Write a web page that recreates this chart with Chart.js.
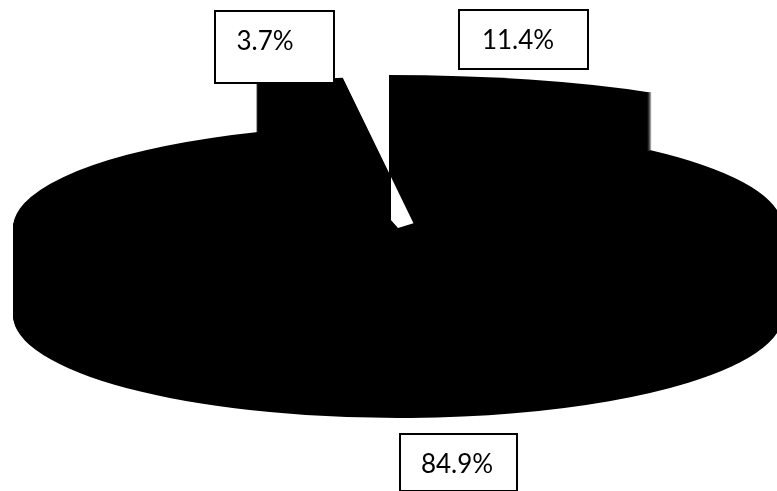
<!DOCTYPE html>
<html>
<head>
<meta charset="utf-8">
<title>Pie</title>
<script src="https://cdn.jsdelivr.net/npm/chart.js@4"></script>
<style>
html, body { margin: 0; padding: 0; background: #fff; }
canvas { display: block; }
</style>
</head>
<body>
<canvas id="pieChart" width="777" height="491"></canvas>
<script>
// Chart values
const sliceNames = ['A', 'B', 'C'];
const sliceValues = [11.4, 84.9, 3.7];
const tickLabels = sliceValues.map(v => v.toFixed(1) + '%');

// Where each slice sits on the tilted plate (same order as the values)
const sliceCentreX = [389, 398, 391];
const sliceCentreY = [147, 228, 177];
const sliceRadiusX = [400, 385, 385];
const sliceRadiusY = [72, 103, 100];
const sliceTurn = [0, 0, -7.2];
const plateDepth = 87;
const drawOrder = [0, 2, 1];

// Label boxes: left, top, width, height, text x, text y
const labelBoxes = [
    [459, 10, 129, 59, 518, 41],
    [400, 434, 117, 57, 457, 465],
    [215, 11, 119, 72, 265, 42]
];

// Draw one arc squashed into an ellipse
function drawSlice(ctx, arc, i, drop) {
    ctx.save();
    ctx.translate(sliceCentreX[i], sliceCentreY[i] + drop);
    ctx.scale(sliceRadiusX[i] / arc.outerRadius, sliceRadiusY[i] / arc.outerRadius);
    ctx.rotate(sliceTurn[i] * Math.PI / 180);
    ctx.translate(-arc.x, -arc.y);
    arc.draw(ctx);
    ctx.restore();
}

// Gap under the exploded slices, follows the right edge of the small slice
function drawGap(ctx) {
    const turn = -sliceTurn[2] * Math.PI / 180;
    const slope = (sliceRadiusX[2] * Math.sin(turn)) / (sliceRadiusY[2] * Math.cos(turn));
    const x = sliceCentreX[2];
    const y = sliceCentreY[2];
    const h = sliceCentreY[1] + 10 - y;
    ctx.save();
    ctx.fillStyle = '#fff';
    ctx.beginPath();
    ctx.moveTo(x, y);
    ctx.lineTo(x + h * slope, y + h);
    ctx.lineTo(x, y + h);
    ctx.closePath();
    ctx.fill();
    ctx.restore();
}

const tiltedPie = {
    id: 'tiltedPie',
    beforeDatasetsDraw(chart) {
        const ctx = chart.ctx;
        const arcs = chart.getDatasetMeta(0).data;
        drawOrder.forEach(i => {
            if (i === 1) drawGap(ctx);
            for (let drop = plateDepth; drop >= 0; drop--) {
                drawSlice(ctx, arcs[i], i, drop);
            }
        });
        return false;
    },
    afterDraw(chart) {
        const ctx = chart.ctx;
        ctx.save();
        labelBoxes.forEach((b, i) => {
            ctx.fillStyle = '#fff';
            ctx.strokeStyle = '#000';
            ctx.lineWidth = 2;
            ctx.fillRect(b[0], b[1], b[2], b[3]);
            ctx.strokeRect(b[0], b[1], b[2], b[3]);
            ctx.fillStyle = '#000';
            ctx.font = '26px Lato';
            ctx.textAlign = 'center';
            ctx.textBaseline = 'middle';
            ctx.fillText(tickLabels[i], b[4], b[5]);
        });
        ctx.restore();
    }
};

new Chart(document.getElementById('pieChart'), {
    type: 'pie',
    data: {
        labels: sliceNames,
        datasets: [{
            data: sliceValues,
            backgroundColor: '#000',
            borderWidth: 0
        }]
    },
    options: {
        responsive: false,
        animation: false,
        layout: { padding: 0 },
        plugins: {
            legend: { display: false },
            tooltip: { enabled: false }
        }
    },
    plugins: [tiltedPie]
});
</script>
</body>
</html>
